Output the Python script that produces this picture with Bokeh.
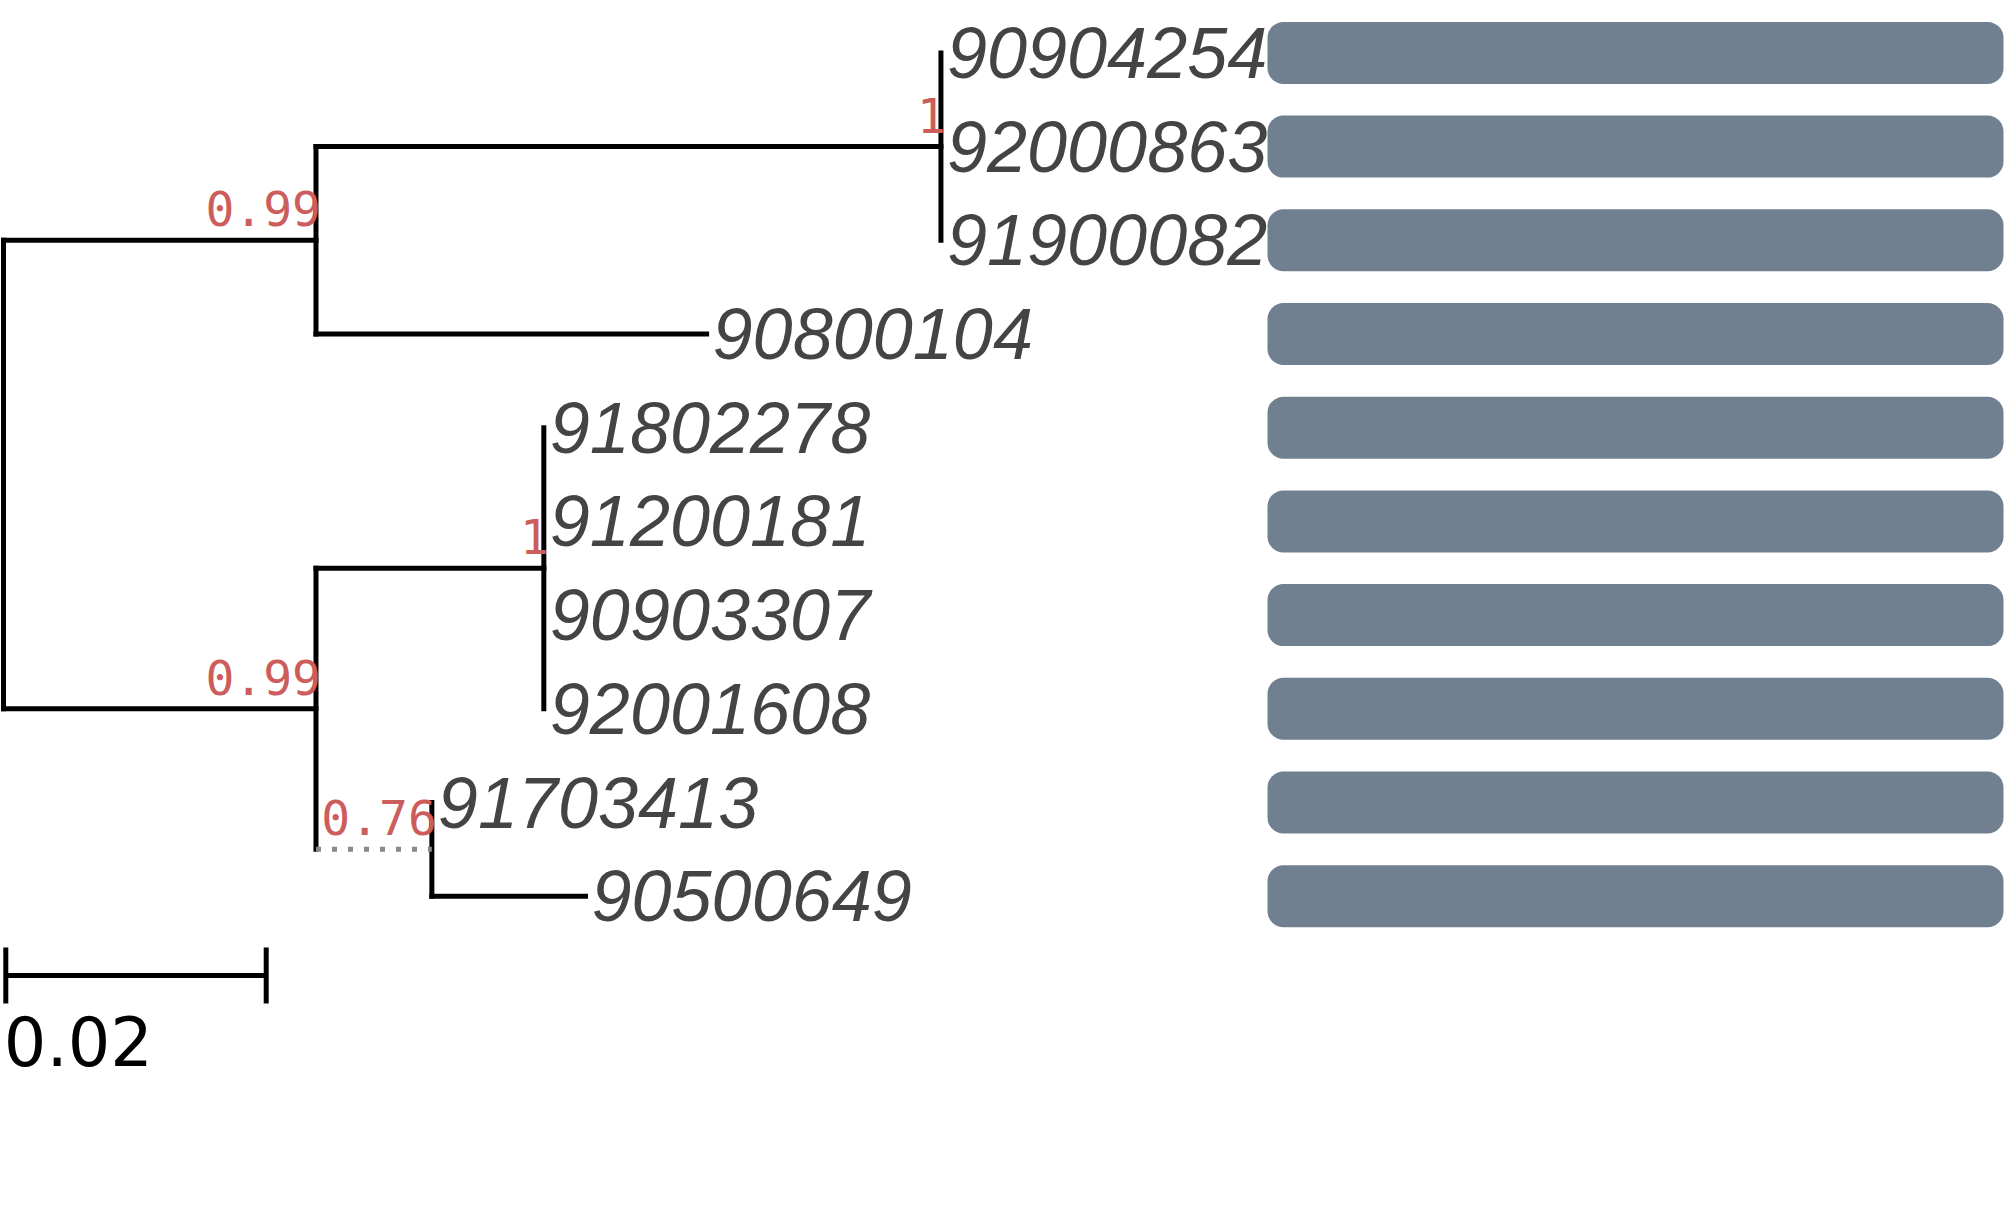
from bokeh.plotting import figure
from bokeh.models import Range1d
from bokeh.core.properties import value
from bokeh.embed import file_html
from bokeh.resources import INLINE

# ---------------- data ----------------
leaf_names = ["90904254", "92000863", "91900082", "90800104", "91802278",
              "91200181", "90903307", "92001608", "91703413", "90500649"]
leaf_parent = ["A1", "A1", "A1", "A", "B1", "B1", "B1", "B1", "B2", "B2"]
leaf_length = [0.0, 0.0, 0.0, 0.030, 0.0, 0.0, 0.0, 0.0, 0.0, 0.0118]

node_names = ["root", "A", "A1", "B", "B1", "B2"]
node_parent = [None, "root", "A", "root", "B", "B"]
node_length = [0.0, 0.024, 0.048, 0.024, 0.0175, 0.0089]
node_support = [None, "0.99", "1", "0.99", "1", "0.76"]
dotted_branches = ["B2"]

track_start = [0.0, 0.0, 0.0, 0.0, 0.0, 0.0, 0.0, 0.0, 0.0, 0.0]
track_end = [1.0, 1.0, 1.0, 1.0, 1.0, 1.0, 1.0, 1.0, 1.0, 1.0]

scale_length = 0.02
scale_label = "0.02"

# ---------------- layout (pixels) ----------------
W, H = 2005, 1150
PX_PER_UNIT = 13020.0
ROOT_PX = 3.0
ROW0_PX = 52.4
ROW_PX = 93.7
BAR_LEFT_PX = 1267.0
BAR_RIGHT_PX = 2003.0
BAR_H_PX = 62.0
SCALE_X_PX = 5.3
SCALE_Y_PX = 975.0
TICK_HALF_PX = 28.0
SUPPORT_DY_PX = 31.5
SCALE_LABEL_DY_PX = 65.0


def px_x(px):
    return (px - ROOT_PX) / PX_PER_UNIT


def px_dy(px):
    return px / ROW_PX


# ---------------- tree geometry ----------------
parent, length = {}, {}
for n, pa, l in zip(node_names, node_parent, node_length):
    parent[n], length[n] = pa, l
for n, pa, l in zip(leaf_names, leaf_parent, leaf_length):
    parent[n], length[n] = pa, l

children = {n: [] for n in node_names}
for n in node_names[1:] + leaf_names:
    children[parent[n]].append(n)

xpos = {}


def get_x(n):
    if n in xpos:
        return xpos[n]
    v = length[n] if parent[n] is None else get_x(parent[n]) + length[n]
    xpos[n] = v
    return v


ypos = {n: float(i) for i, n in enumerate(leaf_names)}


def get_y(n):
    if n in ypos:
        return ypos[n]
    ys = [get_y(c) for c in children[n]]
    ypos[n] = (min(ys) + max(ys)) / 2.0
    return ypos[n]


for n in node_names + leaf_names:
    get_x(n)
    get_y(n)

hx0, hy0, hx1, hy1 = [], [], [], []
dx0, dy0, dx1, dy1 = [], [], [], []
for n in node_names[1:] + leaf_names:
    if length[n] <= 0:
        continue
    if n in dotted_branches:
        dx0.append(xpos[parent[n]]); dx1.append(xpos[n])
        dy0.append(ypos[n]); dy1.append(ypos[n])
    else:
        hx0.append(xpos[parent[n]]); hx1.append(xpos[n])
        hy0.append(ypos[n]); hy1.append(ypos[n])

vx0, vy0, vx1, vy1 = [], [], [], []
for n in node_names:
    ys = [ypos[c] for c in children[n]]
    vx0.append(xpos[n]); vx1.append(xpos[n])
    vy0.append(min(ys)); vy1.append(max(ys))

# ---------------- figure ----------------
x_start = px_x(0)
x_end = px_x(W)
y_top = -ROW0_PX / ROW_PX
y_bottom = (H - ROW0_PX) / ROW_PX

p = figure(width=W, height=H, output_backend="svg", toolbar_location=None,
           x_range=Range1d(x_start, x_end), y_range=Range1d(y_bottom, y_top),
           x_axis_location=None, y_axis_location=None, min_border=0,
           outline_line_color=None, background_fill_color="white",
           border_fill_color="white")
p.grid.visible = False

# tree branches
p.segment(hx0, hy0, hx1, hy1, line_color="black", line_width=5, line_cap="square")
p.segment(vx0, vy0, vx1, vy1, line_color="black", line_width=5, line_cap="square")
p.segment(dx0, dy0, dx1, dy1, line_color="#888888", line_width=5, line_dash="5 11",
          line_cap="butt")

# leaf labels
p.text(x=[xpos[n] for n in leaf_names], y=[ypos[n] for n in leaf_names],
       text=leaf_names, x_offset=6, text_baseline="middle", text_align="left",
       text_font=value("Liberation Sans"), text_font_style="italic",
       text_font_size="72px", text_color="#444444")

# support values
sx, sy, st = [], [], []
for n, s in zip(node_names, node_support):
    if s:
        sx.append(xpos[n]); sy.append(ypos[n] - px_dy(SUPPORT_DY_PX)); st.append(s)
p.text(x=sx, y=sy, text=st, x_offset=5, text_align="right",
       text_baseline="middle", text_font=value("DejaVu Sans Mono"),
       text_font_size="48px", text_color="#CD5C5C")

# tracks
bar_w = px_x(BAR_RIGHT_PX) - px_x(BAR_LEFT_PX)
p.hbar(y=list(range(len(leaf_names))),
       left=[px_x(BAR_LEFT_PX) + s * bar_w for s in track_start],
       right=[px_x(BAR_LEFT_PX) + e * bar_w for e in track_end],
       height=px_dy(BAR_H_PX), fill_color="#708090", line_color=None,
       border_radius=16)

# scale bar
scale_x0 = px_x(SCALE_X_PX)
scale_y = (SCALE_Y_PX - ROW0_PX) / ROW_PX
tick = px_dy(TICK_HALF_PX)
p.segment([scale_x0], [scale_y], [scale_x0 + scale_length], [scale_y],
          line_color="black", line_width=5, line_cap="butt")
p.segment([scale_x0, scale_x0 + scale_length], [scale_y - tick] * 2,
          [scale_x0, scale_x0 + scale_length], [scale_y + tick] * 2,
          line_color="black", line_width=5, line_cap="butt")
p.text(x=[scale_x0], y=[scale_y + px_dy(SCALE_LABEL_DY_PX)], text=[scale_label],
       x_offset=-2, text_align="left", text_baseline="middle",
       text_font=value("DejaVu Sans"), text_font_size="67px", text_color="black")

open("out.html", "w").write(file_html(p, INLINE))
